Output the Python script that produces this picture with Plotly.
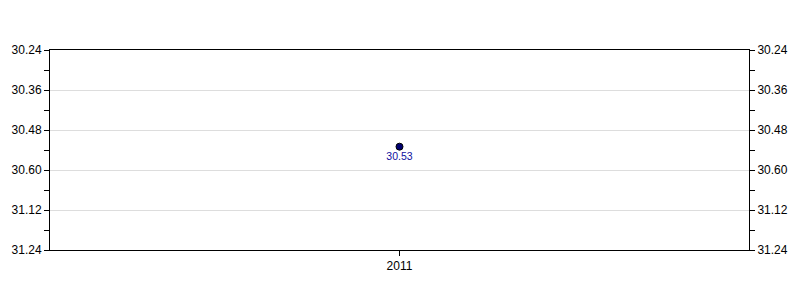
import plotly.graph_objects as go

categories = ["2011"]
values_label = ["30.53"]
tick_labels = ["30.24", "30.36", "30.48", "30.60", "31.12", "31.24"]

def to_seconds(s):
    m, sec = s.split(".")
    return int(m) * 60 + int(sec)

y_vals = [to_seconds(v) for v in values_label]
tick_vals = [1824 + 12 * i for i in range(len(tick_labels))]
y_range = [tick_vals[-1], tick_vals[0]]

FONT = "Liberation Sans, Arial"

fig = go.Figure()
fig.add_trace(go.Scatter(
    x=categories, y=y_vals, mode="markers+text",
    text=values_label, textposition="bottom center",
    textfont=dict(family=FONT, size=10.5, color="#1010a0"),
    marker=dict(size=7, color="#000070", line=dict(color="#000000", width=1)),
    hoverinfo="skip", showlegend=False,
))
fig.add_trace(go.Scatter(
    x=categories, y=y_vals, yaxis="y2", mode="markers",
    marker=dict(size=1, opacity=0), hoverinfo="skip", showlegend=False,
))

axis_common = dict(
    range=y_range, tickmode="array", tickvals=tick_vals, ticktext=tick_labels,
    ticks="outside", ticklen=5, tickcolor="#000", tickwidth=1,
    showline=True, linecolor="#000", linewidth=1,
    tickfont=dict(family=FONT, size=12, color="#000"),
    minor=dict(tickmode="array", tickvals=[t + 6 for t in tick_vals[:-1]],
               ticks="outside", ticklen=5, tickcolor="#000", showgrid=False),
    zeroline=False,
)

fig.update_layout(
    width=800, height=300,
    margin=dict(l=50, r=49, t=50, b=50),
    paper_bgcolor="white", plot_bgcolor="white",
    xaxis=dict(
        type="category", range=[-0.5, 0.5], showgrid=False,
        showline=True, linecolor="#000", linewidth=1, mirror=True,
        ticks="outside", ticklen=5, tickcolor="#000",
        tickfont=dict(family=FONT, size=12, color="#000"),
    ),
    yaxis=dict(**axis_common, side="left", showgrid=True, gridcolor="#dddddd", gridwidth=1),
    yaxis2=dict(**axis_common, side="right", overlaying="y", showgrid=False),
)

fig.write_html("out.html")
